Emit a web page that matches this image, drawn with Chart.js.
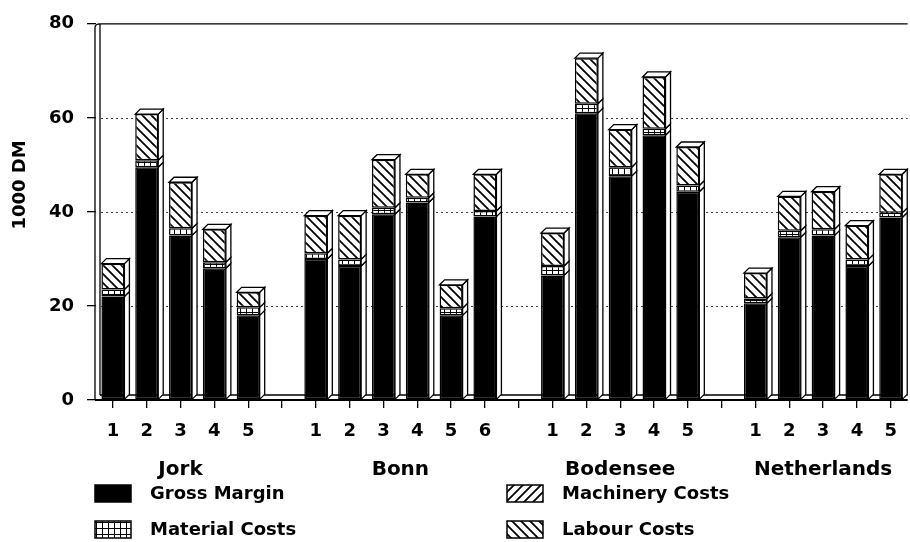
<!DOCTYPE html>
<html>
<head>
<meta charset="utf-8">
<script src="https://cdn.jsdelivr.net/npm/chart.js@4.4.0/dist/chart.umd.min.js"></script>
<style>
  html, body { margin: 0; padding: 0; background: #fff; overflow: hidden; }
</style>
</head>
<body>
<canvas id="chart" width="910" height="542"></canvas>
<script>
// farm numbers per region, "" = gap between regions
const regions = ["Jork", "Bonn", "Bodensee", "Netherlands"];
const farms = ["1", "2", "3", "4", "5", "",
               "1", "2", "3", "4", "5", "6", "",
               "1", "2", "3", "4", "5", "",
               "1", "2", "3", "4", "5"];

// 1000 DM
const grossMargin    = [22, 49.5, 35, 28, 18, null, 30, 28.5, 39.5, 42, 18, 39, null, 26.5, 61, 47.6, 56.3, 44.3, null, 20.6, 34.6, 35, 28.5, 38.8];
const materialCosts  = [1.5, 1.5, 1.5, 1.3, 1.7, null, 1.2, 1.4, 1.4, 1, 1.5, 1.2, null, 2, 2, 1.9, 1.4, 1.3, null, 1, 1.4, 1.3, 1.4, 1];
const machineryCosts = [0, 0, 0, 0, 0, null, 0, 0, 0, 0, 0, 0, null, 0, 0, 0, 0, 0, null, 0, 0, 0, 0, 0];
const labourCosts    = [5.5, 9.8, 9.8, 7, 3.2, null, 8, 9.3, 10.2, 5, 5, 7.8, null, 7, 9.7, 8, 11, 8.2, null, 5.4, 7.3, 8, 7.2, 8.2];

const yTitle = "1000 DM";
const FONT = "'DejaVu Sans', sans-serif";
const depth = 5;

function makePattern(kind) {
  const c = document.createElement("canvas");
  const s = kind === "grid" ? 6 : 9;
  c.width = s; c.height = s;
  const g = c.getContext("2d");
  g.fillStyle = "#fff";
  g.fillRect(0, 0, s, s);
  g.strokeStyle = "#000";
  g.beginPath();
  if (kind === "grid") {
    g.lineWidth = 1;
    g.moveTo(0.5, 0); g.lineTo(0.5, s);
    g.moveTo(0, 0.5); g.lineTo(s, 0.5);
  } else if (kind === "back") {
    g.lineWidth = 1.8;
    g.moveTo(-2, -2); g.lineTo(s + 2, s + 2);
    g.moveTo(-2, s - 2); g.lineTo(2, s + 2);
    g.moveTo(s - 2, -2); g.lineTo(s + 2, 2);
  } else {
    g.lineWidth = 1.8;
    g.moveTo(-2, s + 2); g.lineTo(s + 2, -2);
    g.moveTo(-2, 2); g.lineTo(2, -2);
    g.moveTo(s - 2, s + 2); g.lineTo(s + 2, s - 2);
  }
  g.stroke();
  return g.createPattern(c, "repeat");
}

const ctx = document.getElementById("chart").getContext("2d");
const gridFill = makePattern("grid");
const fwdFill = makePattern("fwd");
const backFill = makePattern("back");

// wall, floor and dotted grid lines behind the bars
const backdrop = {
  id: "backdrop",
  beforeDatasetsDraw(chart) {
    const { ctx, chartArea: a, scales: { y } } = chart;
    ctx.save();
    ctx.strokeStyle = "#444";
    ctx.lineWidth = 1.2;
    ctx.setLineDash([2, 3]);
    y.ticks.forEach(t => {
      if (t.value <= y.min || t.value >= y.max) return;
      const py = Math.round(y.getPixelForValue(t.value)) + 0.5;
      ctx.beginPath();
      ctx.moveTo(a.left + depth, py);
      ctx.lineTo(a.right, py);
      ctx.stroke();
    });
    ctx.setLineDash([]);
    ctx.strokeStyle = "#000";
    ctx.lineWidth = 1.3;
    ctx.beginPath();
    // outer and inner wall
    ctx.moveTo(a.left - 1, a.bottom);
    ctx.lineTo(a.left - 1, a.top + 4);
    ctx.quadraticCurveTo(a.left - 1, a.top, a.left + 4, a.top);
    ctx.lineTo(a.right, a.top);
    ctx.moveTo(a.left + 4, a.bottom - depth);
    ctx.lineTo(a.left + 4, a.top);
    // floor
    ctx.moveTo(a.left + 4, a.bottom - depth);
    ctx.lineTo(a.right, a.bottom - depth);
    ctx.stroke();
    ctx.lineWidth = 2;
    ctx.beginPath();
    ctx.moveTo(a.left - 1, a.bottom);
    ctx.lineTo(a.right, a.bottom);
    ctx.stroke();
    ctx.restore();
  },
  afterDatasetsDraw(chart) {
    const { ctx } = chart;
    const sets = chart.data.datasets;
    ctx.save();
    ctx.strokeStyle = "#000";
    ctx.lineWidth = 1.3;
    ctx.fillStyle = "#fff";
    sets.forEach((ds, i) => {
      chart.getDatasetMeta(i).data.forEach((bar, j) => {
        if (!ds.data[j]) return;
        const { x, y, base, width } = bar.getProps(["x", "y", "base", "width"], true);
        const l = x - width / 2, r = x + width / 2;
        ctx.beginPath();
        ctx.moveTo(r, base);
        ctx.lineTo(r + depth, base - depth);
        ctx.lineTo(r + depth, y - depth);
        ctx.lineTo(r, y);
        ctx.closePath();
        ctx.fill();
        ctx.stroke();
        // top cap on the highest segment
        const higher = sets.slice(i + 1).some(d => d.data[j]);
        if (!higher) {
          ctx.beginPath();
          ctx.moveTo(l, y);
          ctx.lineTo(l + depth, y - depth);
          ctx.lineTo(r + depth, y - depth);
          ctx.lineTo(r, y);
          ctx.closePath();
          ctx.fill();
          ctx.stroke();
        }
      });
    });
    ctx.restore();
  },
  afterDraw(chart) {
    const { ctx, scales: { x } } = chart;
    ctx.save();
    ctx.fillStyle = "#000";
    ctx.textBaseline = "middle";

    // region names under each group of farms
    ctx.font = "bold 20px " + FONT;
    ctx.textAlign = "center";
    let start = 0, g = 0;
    for (let i = 0; i <= farms.length; i++) {
      if (i === farms.length || farms[i] === "") {
        const cx = (x.getPixelForValue(start) + x.getPixelForValue(i - 1)) / 2;
        ctx.fillText(regions[g], cx, 470);
        g++;
        start = i + 1;
      }
    }

    // y axis title
    ctx.save();
    ctx.translate(20, 185);
    ctx.rotate(-Math.PI / 2);
    ctx.font = "bold 18px " + FONT;
    ctx.fillText(yTitle, 0, 0);
    ctx.restore();

    // legend, two columns
    ctx.font = "bold 18px " + FONT;
    ctx.textAlign = "left";
    const colX = [95, 507];
    const rowY = [493, 529];
    chart.data.datasets.forEach((ds, i) => {
      const bx = colX[Math.floor(i / 2)];
      const by = rowY[i % 2];
      ctx.fillStyle = ds.backgroundColor;
      ctx.fillRect(bx, by - 8, 36, 17);
      ctx.strokeStyle = "#000";
      ctx.lineWidth = 1.5;
      ctx.strokeRect(bx, by - 8, 36, 17);
      ctx.fillStyle = "#000";
      ctx.fillText(ds.label, bx + 55, by + 1);
    });
    ctx.restore();
  }
};

const border = c => (c.raw ? 1.5 : 0);

new Chart(ctx, {
  type: "bar",
  data: {
    labels: farms,
    datasets: [
      { label: "Gross Margin", data: grossMargin, backgroundColor: "#000" },
      { label: "Material Costs", data: materialCosts, backgroundColor: gridFill },
      { label: "Machinery Costs", data: machineryCosts, backgroundColor: fwdFill },
      { label: "Labour Costs", data: labourCosts, backgroundColor: backFill }
    ]
  },
  options: {
    responsive: false,
    animation: false,
    barPercentage: 0.68,
    categoryPercentage: 1,
    datasets: {
      bar: { borderColor: "#000", borderWidth: border, borderSkipped: false }
    },
    layout: { padding: { top: 12, right: 0, bottom: 0, left: 0 } },
    plugins: { legend: { display: false }, tooltip: { enabled: false } },
    scales: {
      x: {
        stacked: true,
        grid: { offset: false, drawOnChartArea: false, tickLength: 8, color: "#000", lineWidth: 1.3 },
        border: { display: false },
        ticks: { color: "#000", font: { family: FONT, size: 18, weight: "bold" }, padding: 13, maxRotation: 0, autoSkip: false },
        afterFit: s => { s.height = 142; }
      },
      y: {
        stacked: true,
        min: 0,
        max: 80,
        grid: { drawOnChartArea: false, tickLength: 9, color: "#000", lineWidth: 1.3 },
        border: { display: false },
        ticks: { stepSize: 20, color: "#000", font: { family: FONT, size: 18, weight: "bold" }, padding: 13 },
        afterFit: s => { s.width = 96; }
      }
    }
  },
  plugins: [backdrop]
});
</script>
</body>
</html>
